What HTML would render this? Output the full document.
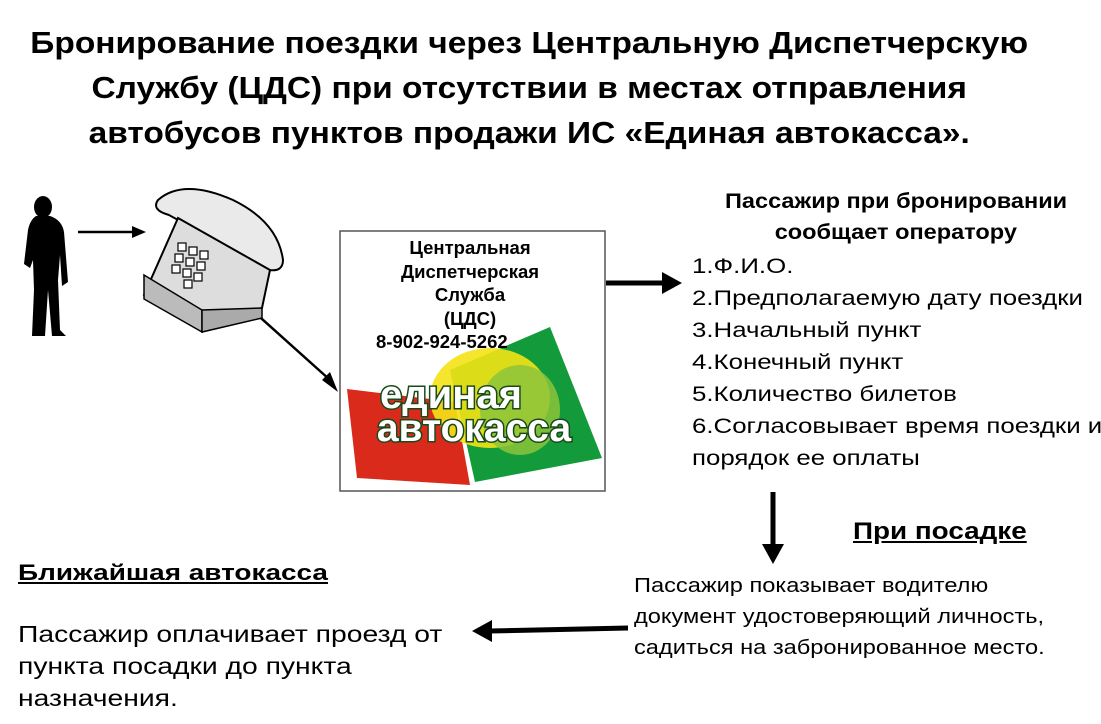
<!DOCTYPE html>
<html><head><meta charset="utf-8"><style>
body{margin:0;width:1101px;height:724px;background:#fff;position:relative;overflow:hidden;font-family:"Liberation Sans","DejaVu Sans",sans-serif;color:#000}
.t{position:absolute;white-space:nowrap;transform-origin:0 0}
</style></head><body>
<div class="t" style="left:0;width:980px;top:20px;text-align:center;font-weight:bold;font-size:31px;line-height:45px;transform:scaleX(1.08)">Бронирование поездки через Центральную Диспетчерскую<br>Службу (ЦДС) при отсутствии в местах отправления<br>автобусов пунктов продажи ИС «Единая автокасса».</div>

<svg style="position:absolute;left:0;top:0" width="1101" height="724">
<g fill="#000">
<ellipse cx="43" cy="207" rx="9" ry="11"/>
<path d="M36,216 L50,216 Q62,220 64,232 L68,282 L62,286 L60,255 L58,280 L60,330 L66,336 L52,336 L48,290 L45,336 L32,336 L34,290 L33,260 L30,268 L24,264 L28,230 Q30,220 36,216z"/>
</g>
<line x1="78" y1="232" x2="136" y2="232" stroke="#000" stroke-width="2.5"/><path d="M132,226L146,232L132,238z"/>
<line x1="252" y1="310" x2="330" y2="380" stroke="#000" stroke-width="2.5"/><path d="M322,380L338,392L330,372z"/>
<line x1="606" y1="283" x2="665" y2="283" stroke="#000" stroke-width="5"/><path d="M662,272L682,283L662,294z"/>
<line x1="773" y1="492" x2="773" y2="548" stroke="#000" stroke-width="5"/><path d="M762,544L773,564L784,544z"/>
<line x1="490" y1="631" x2="628" y2="628" stroke="#000" stroke-width="5"/><path d="M492,620L472,631L492,642z"/>
<path d="M158,200 q25,-22 75,0 q45,22 50,60 q0,12 -14,10 l-100,-55 q-18,-5 -11,-15z" fill="#eaeaea" stroke="#000" stroke-width="2"/>
<path d="M178,218 l92,52 l-8,38 l-60,22 l-58,-35 z" fill="#ddd" stroke="#000" stroke-width="2"/>
<path d="M144,275 l58,35 l0,22 l-58,-33z" fill="#bbb" stroke="#000" stroke-width="1.5"/>
<path d="M202,310 l60,-2 l0,10 l-60,14z" fill="#aaa" stroke="#000" stroke-width="1.5"/>
<g fill="#fff" stroke="#000" stroke-width="1.2">
<rect x="178" y="243" width="8" height="8"/><rect x="189" y="247" width="8" height="8"/><rect x="200" y="251" width="8" height="8"/>
<rect x="175" y="254" width="8" height="8"/><rect x="186" y="258" width="8" height="8"/><rect x="197" y="262" width="8" height="8"/>
<rect x="172" y="265" width="8" height="8"/><rect x="183" y="269" width="8" height="8"/><rect x="194" y="273" width="8" height="8"/>
<rect x="184" y="280" width="8" height="8"/></g>
<rect x="340" y="231" width="265" height="260" fill="#fff" stroke="#555" stroke-width="1.5"/>
<path d="M347,389 L455,402 L470,485 L357,478z" fill="#d92a1c"/>
<path d="M550,327 L602,458 L475,482 L450,370z" fill="#139a3a"/>
<ellipse cx="490" cy="398" rx="60" ry="50" fill="#f4e316" opacity="0.9"/>
<ellipse cx="520" cy="410" rx="40" ry="45" fill="#8cc43c" opacity="0.85"/>
<text x="451" y="408" font-family="Liberation Sans,sans-serif" font-weight="bold" font-size="40" fill="#fff" stroke="#1a4a1a" stroke-width="3" paint-order="stroke" text-anchor="middle">единая</text>
<text x="474" y="441" font-family="Liberation Sans,sans-serif" font-weight="bold" font-size="39" fill="#fff" stroke="#1a4a1a" stroke-width="3" paint-order="stroke" text-anchor="middle">автокасса</text>
</svg>
<div class="t" style="left:360px;width:220px;top:236px;text-align:center;font-weight:bold;font-size:18.5px;line-height:23.5px">Центральная<br>Диспетчерская<br>Служба<br>(ЦДС)</div>
<div class="t" style="left:376px;top:331px;font-weight:bold;font-size:18.5px">8-902-924-5262</div>

<div class="t" style="left:725px;top:186px;width:305px;text-align:center;font-weight:bold;font-size:21px;line-height:31px;transform:scaleX(1.12)">Пассажир при бронировании<br>сообщает оператору</div>
<div class="t" style="left:692px;top:251px;font-size:21px;line-height:32px;transform:scaleX(1.23)">1.Ф.И.О.<br>2.Предполагаемую дату поездки<br>3.Начальный пункт<br>4.Конечный пункт<br>5.Количество билетов<br>6.Согласовывает время поездки и<br>порядок ее оплаты</div>

<div class="t" style="left:853px;top:518px;font-weight:bold;font-size:24px;text-decoration:underline;transform:scaleX(1.16)">При посадке</div>
<div class="t" style="left:634px;top:571px;font-size:20px;line-height:31px;transform:scaleX(1.18)">Пассажир показывает водителю<br>документ удостоверяющий личность,<br>садиться на забронированное место.</div>

<div class="t" style="left:18px;top:560px;font-weight:bold;font-size:22px;text-decoration:underline;transform:scaleX(1.27)">Ближайшая автокасса</div>
<div class="t" style="left:18px;top:618px;font-size:23px;line-height:32px;transform:scaleX(1.23)">Пассажир оплачивает проезд от<br>пункта посадки до пункта<br>назначения.</div>
</body></html>
